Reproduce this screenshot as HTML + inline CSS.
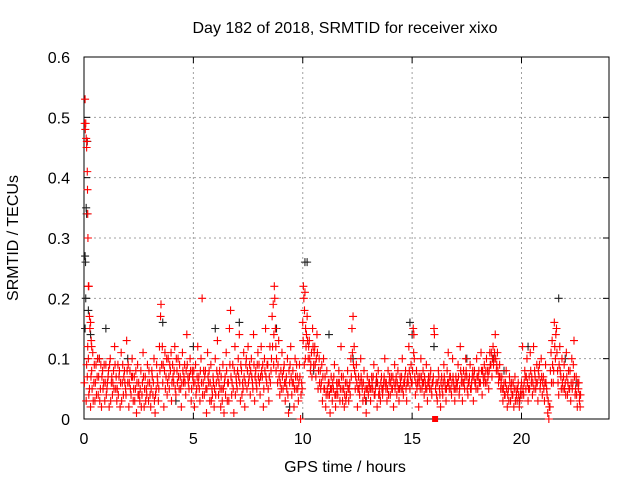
<!DOCTYPE html>
<html><head><meta charset="utf-8"><style>
html,body{margin:0;padding:0;background:#fff;}
svg{display:block;font-family:"Liberation Sans",sans-serif;}
</style></head><body>
<svg id="chart" width="640" height="480" viewBox="0 0 640 480">
<rect x="0" y="0" width="640" height="480" fill="#fff"/>
<g id="grid"></g>
<g id="axes"></g>
<g id="black-series"></g>
<g id="red-series"></g>
<text x="345" y="33" font-size="16" text-anchor="middle">Day 182 of 2018, SRMTID for receiver xixo</text>
<text x="345" y="472" font-size="16" text-anchor="middle">GPS time / hours</text>
<text transform="translate(18,238) rotate(-90)" font-size="16" text-anchor="middle">SRMTID / TECUs</text>
</svg>
<script>
const xTicks = [0,5,10,15,20];
const yTicks = [0,0.1,0.2,0.3,0.4,0.5,0.6];
const yTickLabels = ["0","0.1","0.2","0.3","0.4","0.5","0.6"];
const blackPoints = [[0.05,0.27],[0.07,0.26],[0.08,0.2],[0.1,0.35],[0.12,0.34],[0.15,0.46],[0.2,0.18],[0.05,0.15],[0.3,0.14],[0.7,0.1],[1.0,0.15],[2.0,0.1],[3.6,0.16],[5.0,0.12],[6.0,0.15],[7.1,0.16],[8.8,0.15],[10.1,0.26],[10.2,0.26],[10.5,0.08],[11.2,0.14],[12.3,0.1],[13.4,0.06],[14.9,0.16],[15.0,0.14],[16.0,0.12],[17.5,0.1],[18.7,0.1],[19.2,0.08],[20.3,0.12],[21.7,0.2],[22.0,0.1],[22.5,0.06],[9.4,0.02],[4.2,0.03],[12.9,0.03],[19.9,0.03]];
const redPoints = [
[0.03,0.49],[0.05,0.53],[0.06,0.48],[0.08,0.49],[0.1,0.465],[0.12,0.45],[0.13,0.46],[0.15,0.41],[0.16,0.38],[0.17,0.34],[0.18,0.3],[0.2,0.22],[0.22,0.22],[0.25,0.17],[0.27,0.15],[0.3,0.16],[0.33,0.13],[0.35,0.12],[0.02,0.06],[0.1,0.03],[0.15,0.07],[0.2,0.1],[0.25,0.05],[0.3,0.02],[0.35,0.08],[0.4,0.11],[0.45,0.06],[0.5,0.03],[0.55,0.09],[0.6,0.07],[0.65,0.04],[0.7,0.1],[0.75,0.05],[0.8,0.02],[0.85,0.08],[0.9,0.06],[0.95,0.03],
[1.0,0.09],[1.05,0.05],[1.1,0.07],[1.15,0.02],[1.2,0.1],[1.25,0.06],[1.3,0.04],[1.35,0.08],[1.4,0.12],[1.45,0.05],[1.5,0.03],[1.55,0.09],[1.6,0.07],[1.65,0.02],[1.7,0.11],[1.75,0.06],[1.8,0.04],[1.85,0.08],[1.9,0.05],[1.95,0.13],
[2.0,0.06],[2.05,0.02],[2.1,0.08],[2.15,0.04],[2.2,0.1],[2.25,0.03],[2.3,0.07],[2.35,0.05],[2.4,0.01],[2.45,0.09],[2.5,0.06],[2.55,0.03],[2.6,0.08],[2.65,0.04],[2.7,0.11],[2.75,0.02],[2.8,0.07],[2.85,0.05],[2.9,0.09],[2.95,0.03],
[3.0,0.06],[3.05,0.02],[3.1,0.08],[3.15,0.04],[3.2,0.1],[3.25,0.01],[3.3,0.05],[3.35,0.07],[3.4,0.03],[3.45,0.12],[3.5,0.17],[3.52,0.19],[3.55,0.09],[3.6,0.06],[3.65,0.02],[3.7,0.11],[3.75,0.07],[3.8,0.04],[3.85,0.1],[3.9,0.05],[3.95,0.08],
[4.0,0.03],[4.05,0.09],[4.1,0.06],[4.15,0.12],[4.2,0.04],[4.25,0.08],[4.3,0.1],[4.35,0.05],[4.4,0.07],[4.45,0.02],[4.5,0.11],[4.55,0.06],[4.6,0.09],[4.65,0.04],[4.7,0.14],[4.75,0.07],[4.8,0.05],[4.85,0.1],[4.9,0.03],[4.95,0.08],
[5.0,0.06],[5.05,0.02],[5.1,0.09],[5.15,0.05],[5.2,0.12],[5.25,0.07],[5.3,0.03],[5.35,0.1],[5.4,0.2],[5.45,0.06],[5.5,0.04],[5.55,0.08],[5.6,0.01],[5.65,0.11],[5.7,0.06],[5.75,0.03],[5.8,0.09],[5.85,0.05],[5.9,0.07],[5.95,0.02],
[6.0,0.1],[6.05,0.06],[6.1,0.13],[6.15,0.04],[6.2,0.08],[6.25,0.02],[6.3,0.05],[6.35,0.09],[6.4,0.01],[6.45,0.07],[6.5,0.11],[6.55,0.03],[6.6,0.06],[6.65,0.15],[6.7,0.18],[6.75,0.04],[6.8,0.09],[6.85,0.01],[6.9,0.12],[6.95,0.07],
[7.0,0.05],[7.05,0.1],[7.1,0.14],[7.15,0.03],[7.2,0.08],[7.25,0.06],[7.3,0.11],[7.35,0.02],[7.4,0.09],[7.45,0.05],[7.5,0.12],[7.55,0.07],[7.6,0.04],[7.65,0.1],[7.7,0.06],[7.75,0.14],[7.8,0.03],[7.85,0.08],[7.9,0.05],[7.95,0.11],
[8.0,0.09],[8.05,0.04],[8.1,0.12],[8.15,0.07],[8.2,0.02],[8.25,0.1],[8.3,0.15],[8.35,0.06],[8.4,0.09],[8.45,0.03],[8.5,0.12],[8.55,0.08],[8.6,0.17],[8.65,0.19],[8.7,0.22],[8.72,0.2],[8.75,0.15],[8.8,0.1],[8.85,0.06],[8.9,0.13],[8.95,0.04],
[9.0,0.08],[9.05,0.11],[9.1,0.05],[9.15,0.09],[9.2,0.03],[9.25,0.07],[9.3,0.1],[9.35,0.01],[9.4,0.06],[9.45,0.12],[9.5,0.04],[9.55,0.08],[9.6,0.02],[9.65,0.1],[9.7,0.05],[9.75,0.07],[9.8,0.03],[9.85,0.09],[9.9,0.0],[9.95,0.06],
[10.0,0.16],[10.03,0.22],[10.05,0.2],[10.08,0.18],[10.1,0.21],[10.13,0.15],[10.15,0.12],[10.2,0.17],[10.25,0.1],[10.3,0.13],[10.35,0.08],[10.4,0.11],[10.45,0.15],[10.5,0.09],[10.55,0.12],[10.6,0.07],[10.65,0.14],[10.7,0.05],[10.75,0.1],[10.8,0.08],[10.85,0.06],[10.9,0.03],[10.95,0.1],
[11.0,0.05],[11.05,0.02],[11.1,0.08],[11.15,0.04],[11.2,0.06],[11.25,0.01],[11.3,0.07],[11.35,0.03],[11.4,0.05],[11.45,0.09],[11.5,0.02],[11.55,0.06],[11.6,0.04],[11.65,0.08],[11.7,0.03],[11.75,0.12],[11.8,0.05],[11.85,0.07],[11.9,0.02],[11.95,0.06],
[12.0,0.04],[12.05,0.08],[12.1,0.03],[12.15,0.06],[12.2,0.1],[12.25,0.15],[12.3,0.17],[12.35,0.12],[12.4,0.05],[12.45,0.09],[12.5,0.02],[12.55,0.07],[12.6,0.04],[12.65,0.1],[12.7,0.06],[12.75,0.03],[12.8,0.08],[12.85,0.05],[12.9,0.01],[12.95,0.07],
[13.0,0.04],[13.05,0.06],[13.1,0.03],[13.15,0.07],[13.2,0.05],[13.25,0.09],[13.3,0.04],[13.35,0.06],[13.4,0.02],[13.45,0.08],[13.5,0.05],[13.55,0.03],[13.6,0.07],[13.65,0.04],[13.7,0.06],[13.75,0.1],[13.8,0.05],[13.85,0.03],[13.9,0.08],[13.95,0.06],
[14.0,0.04],[14.05,0.07],[14.1,0.05],[14.15,0.02],[14.2,0.09],[14.25,0.06],[14.3,0.04],[14.35,0.08],[14.4,0.03],[14.45,0.07],[14.5,0.05],[14.55,0.1],[14.6,0.04],[14.65,0.06],[14.7,0.08],[14.75,0.03],[14.8,0.07],[14.85,0.12],[14.9,0.05],[14.95,0.09],
[15.0,0.06],[15.05,0.15],[15.08,0.14],[15.1,0.1],[15.15,0.04],[15.2,0.08],[15.25,0.06],[15.3,0.02],[15.35,0.07],[15.4,0.1],[15.45,0.05],[15.5,0.08],[15.55,0.04],[15.6,0.06],[15.65,0.09],[15.7,0.03],[15.75,0.07],[15.8,0.05],[15.85,0.08],[15.9,0.04],[15.95,0.06],[16.0,0.15],[16.02,0.14],
[16.1,0.06],[16.15,0.03],[16.2,0.08],[16.25,0.05],[16.3,0.02],[16.35,0.07],[16.4,0.04],[16.45,0.09],[16.5,0.06],[16.55,0.03],[16.6,0.08],[16.65,0.11],[16.7,0.05],[16.75,0.07],[16.8,0.04],[16.85,0.1],[16.9,0.06],[16.95,0.03],
[17.0,0.07],[17.05,0.05],[17.1,0.09],[17.15,0.04],[17.2,0.12],[17.25,0.06],[17.3,0.03],[17.35,0.08],[17.4,0.05],[17.45,0.1],[17.5,0.07],[17.55,0.04],[17.6,0.06],[17.65,0.09],[17.7,0.05],[17.75,0.07],[17.8,0.03],[17.85,0.08],[17.9,0.06],[17.95,0.1],
[18.0,0.05],[18.05,0.08],[18.1,0.06],[18.15,0.11],[18.2,0.04],[18.25,0.07],[18.3,0.09],[18.35,0.06],[18.4,0.1],[18.45,0.08],[18.5,0.05],[18.55,0.11],[18.6,0.09],[18.65,0.07],[18.7,0.12],[18.75,0.1],[18.8,0.14],[18.85,0.08],[18.9,0.11],[18.95,0.06],
[19.0,0.09],[19.05,0.05],[19.1,0.07],[19.15,0.03],[19.2,0.06],[19.25,0.04],[19.3,0.08],[19.35,0.02],[19.4,0.05],[19.45,0.07],[19.5,0.03],[19.55,0.06],[19.6,0.04],[19.65,0.02],[19.7,0.07],[19.75,0.05],[19.8,0.03],[19.85,0.06],[19.9,0.02],[19.95,0.04],
[20.0,0.06],[20.05,0.12],[20.1,0.04],[20.15,0.08],[20.2,0.05],[20.25,0.1],[20.3,0.03],[20.35,0.07],[20.4,0.11],[20.45,0.06],[20.5,0.04],[20.55,0.12],[20.6,0.08],[20.65,0.05],[20.7,0.09],[20.75,0.03],[20.8,0.07],[20.85,0.05],[20.9,0.1],[20.95,0.04],
[21.0,0.07],[21.05,0.03],[21.1,0.09],[21.15,0.05],[21.2,0.01],[21.25,0.0],[21.3,0.02],[21.35,0.11],[21.4,0.13],[21.45,0.06],[21.5,0.16],[21.55,0.1],[21.6,0.15],[21.65,0.08],[21.7,0.04],[21.75,0.12],[21.8,0.07],[21.85,0.1],[21.9,0.05],[21.95,0.09],
[22.0,0.06],[22.05,0.11],[22.1,0.04],[22.15,0.08],[22.2,0.05],[22.25,0.03],[22.3,0.1],[22.35,0.06],[22.4,0.13],[22.45,0.04],[22.5,0.07],[22.55,0.02],[22.6,0.05],[22.65,0.03],[22.7,0.04]
];
const redPoints2 = [
[0.12,0.09],[0.22,0.04],[0.32,0.07],[0.42,0.03],[0.52,0.06],[0.62,0.1],[0.72,0.03],[0.82,0.07],[0.92,0.09],
[1.02,0.04],[1.12,0.08],[1.22,0.03],[1.32,0.06],[1.42,0.09],[1.52,0.05],[1.62,0.08],[1.72,0.03],[1.82,0.07],[1.92,0.04],
[2.02,0.09],[2.12,0.05],[2.22,0.07],[2.32,0.03],[2.42,0.06],[2.52,0.04],[2.62,0.02],[2.72,0.07],[2.82,0.03],[2.92,0.06],
[3.02,0.04],[3.12,0.07],[3.22,0.03],[3.32,0.09],[3.42,0.05],[3.58,0.12],[3.68,0.08],[3.78,0.1],[3.88,0.07],[3.98,0.11],
[4.02,0.06],[4.12,0.08],[4.22,0.1],[4.32,0.07],[4.42,0.05],[4.52,0.08],[4.62,0.06],[4.72,0.09],[4.82,0.07],[4.92,0.05],
[5.02,0.08],[5.12,0.04],[5.22,0.06],[5.32,0.08],[5.42,0.04],[5.52,0.07],[5.62,0.05],[5.72,0.08],[5.82,0.03],[5.92,0.06],
[6.02,0.04],[6.12,0.07],[6.22,0.05],[6.32,0.03],[6.42,0.06],[6.52,0.08],[6.62,0.03],[6.72,0.07],[6.82,0.05],[6.92,0.04],
[7.02,0.08],[7.12,0.06],[7.22,0.04],[7.32,0.07],[7.42,0.1],[7.52,0.06],[7.62,0.08],[7.72,0.05],[7.82,0.07],[7.92,0.09],
[8.02,0.06],[8.12,0.08],[8.22,0.05],[8.32,0.07],[8.42,0.05],[8.52,0.06],[8.62,0.12],[8.68,0.14],[8.78,0.08],[8.92,0.07],
[9.02,0.05],[9.12,0.08],[9.22,0.06],[9.32,0.04],[9.42,0.09],[9.52,0.06],[9.62,0.05],[9.72,0.09],[9.82,0.06],[9.92,0.04],
[10.02,0.13],[10.07,0.09],[10.12,0.1],[10.22,0.13],[10.32,0.1],[10.42,0.07],[10.52,0.11],[10.62,0.1],[10.72,0.08],[10.82,0.05],[10.92,0.07],
[11.02,0.07],[11.12,0.05],[11.22,0.04],[11.32,0.05],[11.42,0.07],[11.52,0.04],[11.62,0.06],[11.72,0.05],[11.82,0.03],[11.92,0.04],
[12.02,0.06],[12.12,0.05],[12.22,0.07],[12.32,0.09],[12.42,0.07],[12.52,0.05],[12.62,0.06],[12.72,0.05],[12.82,0.04],[12.92,0.05],
[13.02,0.06],[13.12,0.05],[13.22,0.07],[13.32,0.05],[13.42,0.06],[13.52,0.04],[13.62,0.05],[13.72,0.07],[13.82,0.06],[13.92,0.04],
[14.02,0.06],[14.12,0.07],[14.22,0.05],[14.32,0.06],[14.42,0.05],[14.52,0.07],[14.62,0.06],[14.72,0.05],[14.82,0.06],[14.92,0.07],
[15.02,0.08],[15.12,0.07],[15.22,0.05],[15.32,0.06],[15.42,0.07],[15.52,0.06],[15.62,0.05],[15.72,0.06],[15.82,0.07],[15.92,0.06],
[16.07,0.05],[16.17,0.06],[16.27,0.04],[16.37,0.05],[16.47,0.07],[16.57,0.05],[16.67,0.06],[16.77,0.05],[16.87,0.07],[16.97,0.05],
[17.02,0.06],[17.12,0.07],[17.22,0.08],[17.32,0.06],[17.42,0.07],[17.52,0.05],[17.62,0.07],[17.72,0.06],[17.82,0.07],[17.92,0.05],
[18.02,0.07],[18.12,0.06],[18.22,0.08],[18.32,0.07],[18.42,0.06],[18.52,0.08],[18.62,0.11],[18.72,0.09],[18.82,0.1],[18.92,0.08],
[19.02,0.07],[19.12,0.05],[19.22,0.04],[19.32,0.05],[19.42,0.03],[19.52,0.05],[19.62,0.06],[19.72,0.03],[19.82,0.05],[19.92,0.03],
[20.02,0.04],[20.12,0.06],[20.22,0.07],[20.32,0.05],[20.42,0.08],[20.52,0.06],[20.62,0.07],[20.72,0.06],[20.82,0.09],[20.92,0.07],
[21.02,0.05],[21.12,0.06],[21.22,0.03],[21.32,0.08],[21.42,0.09],[21.52,0.12],[21.57,0.14],[21.62,0.11],[21.72,0.09],[21.82,0.05],[21.92,0.07],
[22.02,0.04],[22.12,0.06],[22.22,0.08],[22.32,0.05],[22.42,0.07],[22.52,0.04],[22.62,0.06],[22.68,0.02]
];
const redPoints3 = [
[0.17,0.12],[0.37,0.05],[0.47,0.09],[0.57,0.04],[0.67,0.07],[0.77,0.09],[0.87,0.05],[0.97,0.06],
[1.07,0.06],[1.17,0.09],[1.27,0.07],[1.37,0.05],[1.47,0.07],[1.57,0.04],[1.67,0.06],[1.77,0.09],[1.87,0.06],[1.97,0.08],
[2.07,0.06],[2.17,0.07],[2.27,0.05],[2.37,0.08],[2.47,0.04],[2.57,0.05],[2.67,0.06],[2.77,0.05],[2.87,0.04],[2.97,0.08],
[3.07,0.05],[3.17,0.06],[3.27,0.04],[3.37,0.06],[3.47,0.08],[3.62,0.09],[3.72,0.05],[3.82,0.06],[3.92,0.09],
[4.07,0.07],[4.17,0.05],[4.27,0.06],[4.37,0.09],[4.47,0.06],[4.57,0.07],[4.67,0.08],[4.77,0.06],[4.87,0.08],[4.97,0.07],
[5.07,0.06],[5.17,0.07],[5.27,0.05],[5.37,0.06],[5.47,0.08],[5.57,0.05],[5.67,0.07],[5.77,0.06],[5.87,0.04],[5.97,0.05],
[6.07,0.08],[6.17,0.06],[6.27,0.07],[6.37,0.05],[6.47,0.04],[6.57,0.06],[6.67,0.09],[6.77,0.06],[6.87,0.08],[6.97,0.06],
[7.07,0.07],[7.17,0.09],[7.27,0.05],[7.37,0.06],[7.47,0.08],[7.57,0.09],[7.67,0.07],[7.77,0.09],[7.87,0.06],[7.97,0.07],
[8.07,0.07],[8.17,0.09],[8.27,0.08],[8.37,0.09],[8.47,0.07],[8.57,0.1],[8.67,0.09],[8.77,0.12],[8.87,0.09],[8.97,0.06],
[9.07,0.07],[9.17,0.06],[9.27,0.05],[9.37,0.08],[9.47,0.07],[9.57,0.06],[9.67,0.07],[9.77,0.05],[9.87,0.07],[9.97,0.05],
[10.17,0.14],[10.27,0.12],[10.37,0.09],[10.47,0.12],[10.57,0.09],[10.67,0.11],[10.77,0.06],[10.87,0.09],[10.97,0.05],
[11.07,0.04],[11.17,0.06],[11.27,0.05],[11.37,0.06],[11.47,0.04],[11.57,0.05],[11.67,0.06],[11.77,0.07],[11.87,0.05],[11.97,0.03],
[12.07,0.05],[12.17,0.04],[12.27,0.11],[12.37,0.08],[12.47,0.06],[12.57,0.05],[12.67,0.07],[12.77,0.06],[12.87,0.03],[12.97,0.05],
[13.07,0.05],[13.17,0.06],[13.27,0.04],[13.37,0.07],[13.47,0.04],[13.57,0.06],[13.67,0.05],[13.77,0.06],[13.87,0.05],[13.97,0.07],
[14.07,0.05],[14.17,0.06],[14.27,0.07],[14.37,0.05],[14.47,0.06],[14.57,0.05],[14.67,0.07],[14.77,0.06],[14.87,0.08],[14.97,0.06],
[15.07,0.11],[15.17,0.06],[15.27,0.07],[15.37,0.05],[15.47,0.06],[15.57,0.07],[15.67,0.05],[15.77,0.06],[15.87,0.05],[15.97,0.07],
[16.12,0.04],[16.22,0.07],[16.32,0.06],[16.42,0.06],[16.52,0.05],[16.62,0.06],[16.72,0.07],[16.82,0.06],[16.92,0.05],
[17.07,0.06],[17.17,0.05],[17.27,0.07],[17.37,0.06],[17.47,0.08],[17.57,0.06],[17.67,0.05],[17.77,0.08],[17.87,0.06],[17.97,0.07],
[18.07,0.06],[18.17,0.08],[18.27,0.06],[18.37,0.08],[18.47,0.07],[18.57,0.09],[18.67,0.1],[18.77,0.11],[18.87,0.09],[18.97,0.07],
[19.07,0.06],[19.17,0.05],[19.27,0.06],[19.37,0.04],[19.47,0.06],[19.57,0.04],[19.67,0.05],[19.77,0.04],[19.87,0.04],[19.97,0.05],
[20.07,0.05],[20.17,0.07],[20.27,0.06],[20.37,0.05],[20.47,0.07],[20.57,0.05],[20.67,0.06],[20.77,0.08],[20.87,0.06],[20.97,0.06],
[21.07,0.06],[21.17,0.04],[21.27,0.02],[21.37,0.06],[21.47,0.08],[21.67,0.06],[21.77,0.08],[21.87,0.06],[21.97,0.05],
[22.07,0.07],[22.17,0.05],[22.27,0.06],[22.37,0.09],[22.47,0.05],[22.57,0.06],[22.66,0.04]
];
const redSquare = [16.05, 0.0];

const NS = "http://www.w3.org/2000/svg";
const X0 = 84, X1 = 609, Y0 = 419, Y1 = 57, XMAX = 24, YMAX = 0.6;
function xs(t){ return X0 + (X1 - X0) * t / XMAX; }
function ys(v){ return Y0 - (Y0 - Y1) * v / YMAX; }
function mk(tag, attrs){ const e = document.createElementNS(NS, tag); for (const k in attrs) e.setAttribute(k, attrs[k]); return e; }

const grid = document.getElementById('grid');
const axes = document.getElementById('axes');
xTicks.forEach(t => {
  const x = xs(t);
  if (t > 0) {
    const g = mk('line', {x1:x, y1:Y1, x2:x, y2:Y0, stroke:'#a0a0a0', 'stroke-dasharray':'2,3', 'stroke-width':1});
    
    
    grid.appendChild(g);
  }
  const tk = mk('line', {x1:x, y1:Y0, x2:x, y2:Y0-6, stroke:'#000'});
  
  
  axes.appendChild(tk);
  const tk2 = mk('line', {x1:x, y1:Y1, x2:x, y2:Y1+6, stroke:'#000'});
  
  
  axes.appendChild(tk2);
  const lb = mk('text', {x:x, y:444, 'font-size':16, 'text-anchor':'middle'});
  lb.textContent = String(t);
  
  
  axes.appendChild(lb);
});
yTicks.forEach((v, i) => {
  const y = ys(v);
  if (v > 0 && v < YMAX) {
    const g = mk('line', {x1:X0, y1:y, x2:X1, y2:y, stroke:'#a0a0a0', 'stroke-dasharray':'2,3', 'stroke-width':1});
    
    
    grid.appendChild(g);
  }
  const tk = mk('line', {x1:X0, y1:y, x2:X0+6, y2:y, stroke:'#000'});
  
  
  axes.appendChild(tk);
  const tk2 = mk('line', {x1:X1, y1:y, x2:X1-6, y2:y, stroke:'#000'});
  
  
  axes.appendChild(tk2);
  const lb = mk('text', {x:70, y:y+6, 'font-size':16, 'text-anchor':'end'});
  lb.textContent = yTickLabels[i];
  
  
  axes.appendChild(lb);
});
const frame = mk('rect', {x:X0, y:Y1, width:X1-X0, height:Y0-Y1, fill:'none', stroke:'#000', 'stroke-width':1});


axes.appendChild(frame);

function plus(g, t, v, color, name){
  const x = xs(t), y = ys(v);
  const p = mk('path', {d:`M${x-4},${y}H${x+4}M${x},${y-4}V${y+4}`, stroke:color, 'stroke-width':1.1, fill:'none'});
  
  
  g.appendChild(p);
}
const bg = document.getElementById('black-series');
blackPoints.forEach(p => plus(bg, p[0], p[1], '#222', 'black-point'));
const rg = document.getElementById('red-series');
redPoints.forEach(p => plus(rg, p[0], p[1], '#ff0000', 'red-point'));
redPoints2.forEach(p => plus(rg, p[0], p[1], '#ff0000', 'red-point'));
redPoints3.forEach(p => plus(rg, p[0], p[1], '#ff0000', 'red-point'));
const sq = mk('rect', {x:xs(redSquare[0])-3, y:ys(redSquare[1])-3, width:6, height:6, fill:'#ff0000'});


rg.appendChild(sq);
</script>
</body></html>
